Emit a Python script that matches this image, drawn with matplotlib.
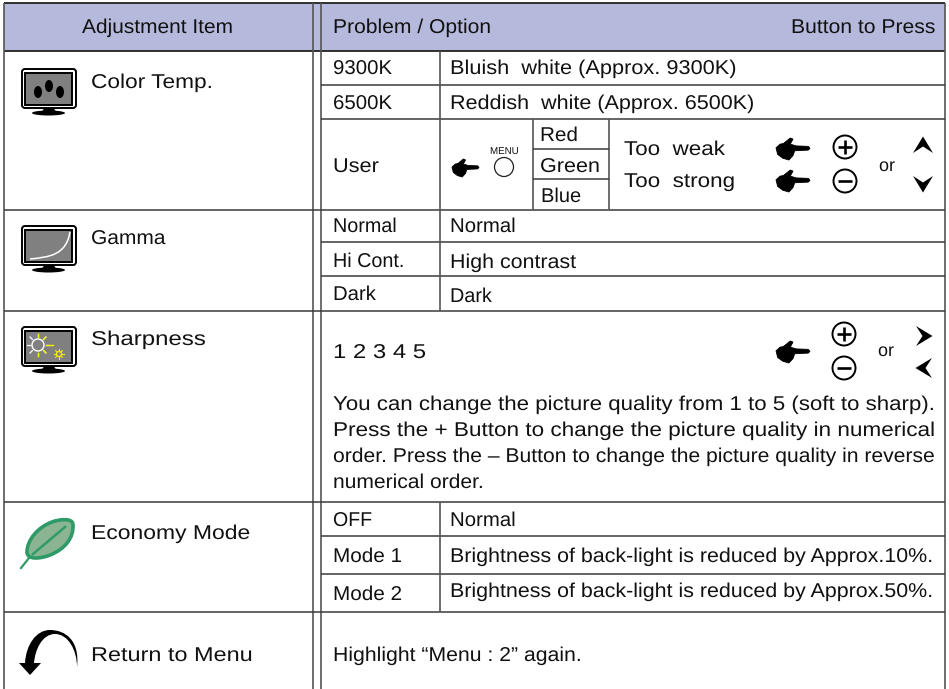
#!/usr/bin/env python3
"""Adjustment menu table, drawn on one axes in pixel coordinates."""
import matplotlib
matplotlib.use("Agg")
import matplotlib.pyplot as plt
import matplotlib.patheffects as pe
from matplotlib.patches import Circle, Ellipse, FancyBboxPatch, PathPatch, Polygon, Rectangle
from matplotlib.path import Path
from matplotlib.transforms import Affine2D

plt.rcParams["font.family"] = ["Liberation Sans", "DejaVu Sans"]

header = ["Adjustment Item", "Problem / Option", "Button to Press"]
items = ["Color Temp.", "Gamma", "Sharpness", "Economy Mode", "Return to Menu"]
temp_options = ["9300K", "6500K", "User"]
temp_texts = ["Bluish  white (Approx. 9300K)", "Reddish  white (Approx. 6500K)"]
channels = ["Red", "Green", "Blue"]
strength = ["Too  weak", "Too  strong"]
gamma_options = ["Normal", "Hi Cont.", "Dark"]
gamma_texts = ["Normal", "High contrast", "Dark"]
sharp_levels = "1 2 3 4 5"
sharp_para = [
    "You can change the picture quality from 1 to 5 (soft to sharp).",
    "Press the + Button to change the picture quality in numerical",
    "order. Press the \u2013 Button to change the picture quality in reverse",
    "numerical order.",
]
eco_options = ["OFF", "Mode 1", "Mode 2"]
eco_texts = ["Normal",
             "Brightness of back-light is reduced by Approx.10%.",
             "Brightness of back-light is reduced by Approx.50%."]
return_text = "Highlight \u201cMenu : 2\u201d again."

INK = "#111111"
LINE = "#3a3a3a"
HEAD = "#b5b9dc"

fig = plt.figure(figsize=(9.49, 6.89), dpi=100)
ax = fig.add_axes([0, 0, 1, 1])
ax.set_xlim(0, 949)
ax.set_ylim(689, 0)
ax.axis("off")
renderer = fig.canvas.get_renderer()


class StretchX(pe.AbstractPathEffect):
    def __init__(self, sx):
        super().__init__()
        self.sx = sx

    def draw_path(self, renderer, gc, tpath, affine, rgbFace=None):
        renderer.draw_path(gc, tpath, Affine2D().scale(self.sx, 1) + affine, rgbFace)


def put(x, base, s, xend=None, px=20):
    t = ax.text(x, base, s, fontsize=px * 0.72, color=INK, ha="left", va="baseline")
    if xend is not None:
        w = t.get_window_extent(renderer).width
        t.set_path_effects([StretchX((xend - x) / w)])
    return t


def hline(y, x0, x1, lw=1.1, c=LINE):
    ax.plot([x0, x1], [y, y], color=c, lw=lw, solid_capstyle="butt")


def vline(x, y0, y1, lw=1.2, c="#555555"):
    ax.plot([x, x], [y0, y1], color=c, lw=lw, solid_capstyle="butt")


def monitor(y0, x0=21):
    ax.add_patch(Ellipse((x0 + 27.5, y0 + 45), 33, 5, fc="black", ec="none"))
    ax.add_patch(Polygon([(x0 + 20, y0 + 45), (x0 + 24, y0 + 39), (x0 + 32, y0 + 39), (x0 + 36, y0 + 45)],
                         fc="black", ec="none"))
    ax.add_patch(FancyBboxPatch((x0 + 1, y0 + 1), 54, 39, boxstyle="round,pad=0,rounding_size=3",
                                fc="white", ec="black", lw=1.4))
    ax.add_patch(Rectangle((x0 + 4.5, y0 + 4.5), 47, 32, fc="#808080", ec="black", lw=1.4))


def hand(x, y, w=34, h=22):
    pts = [(0, -.05), (.12, -.22), (.22, -.25), (.42, -.5), (.5, -.45), (.42, -.22), (.6, -.14),
           (.95, -.12), (1, -.03), (.95, .05), (.55, .08), (.5, .3), (.38, .5), (.2, .42), (.05, .25)]
    ax.add_patch(Polygon([(x + px * w, y + py * h) for px, py in pts], fc="black", ec="black", lw=0.6))


def plus_minus(x, y, r=11.5, plus=True):
    ax.add_patch(Circle((x, y), r, fc="white", ec="black", lw=1.4))
    hline(y, x - 7, x + 7, lw=1.9, c="black")
    if plus:
        vline(x, y - 7, y + 7, lw=1.9, c="black")


def chevron(x, y, direction):
    base = [(0, -8.5), (-10, 8), (0, 1.5), (10, 8)]
    rot = {"up": lambda p: p, "down": lambda p: (p[0], -p[1]),
           "right": lambda p: (-p[1], p[0]), "left": lambda p: (p[1], p[0])}[direction]
    ax.add_patch(Polygon([(x + rot(p)[0], y + rot(p)[1]) for p in base], fc="black", ec="none"))


def sun(x, y, r, col, lw=1.0):
    ax.add_patch(Circle((x, y), r, fc="none", ec=col, lw=lw))
    for dx, dy in [(1, 0), (-1, 0), (0, 1), (0, -1), (.7, .7), (-.7, .7), (.7, -.7), (-.7, -.7)]:
        ax.plot([x + dx * r * 1.35, x + dx * r * 1.9], [y + dy * r * 1.35, y + dy * r * 1.9], color=col, lw=lw * .9)


# header band and outer frame
ax.add_patch(Rectangle((4, 3), 941, 48, fc=HEAD, ec="none"))
hline(3, 4, 945, lw=1.3, c="#222222")
hline(51, 4, 945, lw=1.3, c="#222222")
for x in (4, 313, 321, 945):
    vline(x, 3, 689)

# full width rows
for y in (210, 311, 502, 612):
    hline(y, 4, 945)
# rows that only cross the right part
for y in (85, 119, 242, 276, 536, 574):
    hline(y, 321, 945)
for y0, y1 in [(51, 210), (210, 311), (502, 612)]:
    vline(440, y0, y1)
vline(533, 119, 210)
vline(609, 119, 210)
hline(149, 533, 609)
hline(179, 533, 609)

# text
put(82, 33, header[0], 233)
put(333, 33, header[1], 491)
put(791, 33, header[2], 935)

for (x1, y), s in zip([(213, 88), (166, 244), (206, 345), (250, 539), (252, 661)], items):
    put(91, y, s, x1)

put(333, 74, temp_options[0], 392)
put(333, 109, temp_options[1], 392)
put(333, 172, temp_options[2], 379)
put(450, 74, temp_texts[0], 736)
put(450, 109, temp_texts[1], 754)
put(540, 141, channels[0], 578)
put(540, 172, channels[1], 600)
put(541, 202, channels[2], 581)
put(624, 155, strength[0], 725)
put(624, 187, strength[1], 735)
put(490, 154, "MENU", 519, px=10)
put(879, 171, "or", 895, px=18)
put(878, 356, "or", 894, px=18)

put(333, 232, gamma_options[0], 397)
put(333, 267, gamma_options[1], 404)
put(333, 300, gamma_options[2], 376)
put(450, 232, gamma_texts[0], 516)
put(450, 268, gamma_texts[1], 576)
put(450, 302, gamma_texts[2], 492)

put(333, 358, sharp_levels, 426)
for y, x1, s in zip((410, 436, 462, 488), (934, 934, 934, 484), sharp_para):
    put(333, y, s, x1)

put(333, 526, eco_options[0], 372)
put(333, 562, eco_options[1], 402)
put(333, 600, eco_options[2], 402)
put(450, 526, eco_texts[0], 516)
put(450, 562, eco_texts[1], 933)
put(450, 597, eco_texts[2], 933)
put(333, 661, return_text, 581)

# button glyphs
ax.add_patch(Circle((504, 167), 9.5, fc="white", ec="#222222", lw=0.9))
hand(452, 168, w=27, h=18)
hand(776, 149)
hand(776, 181)
hand(776, 352)
plus_minus(845, 147)
plus_minus(845, 181, plus=False)
plus_minus(844, 334)
plus_minus(844, 368, plus=False)
chevron(923, 145, "up")
chevron(923, 184, "down")
chevron(924, 336, "right")
chevron(924, 368, "left")

# menu icons
monitor(68)
for cx, cy in [(38, 92), (49, 86), (60, 92)]:
    ax.add_patch(Ellipse((cx, cy), 8, 12, fc="black", ec="none"))

monitor(225)
ax.add_patch(PathPatch(Path([(30, 259), (50, 257), (66, 255), (70, 232)],
                            [Path.MOVETO, Path.CURVE4, Path.CURVE4, Path.CURVE4]),
                       fc="none", ec="white", lw=1.1))

monitor(326)
sun(38, 345, 6, "white")
ax.plot([46, 53], [345, 345], color="#f4f000", lw=1)
for dx, dy in [(0, -1), (.7, -.7), (0, 1), (.7, .7)]:
    ax.plot([38 + dx * 8, 38 + dx * 11], [345 + dy * 8, 345 + dy * 11], color="#f4f000", lw=1)
sun(59, 354, 2.5, "#f4f000", lw=0.9)

leaf = Path([(73, 524), (72, 518), (60, 519), (52, 522), (38, 527), (27, 540), (27, 552),
             (27, 560), (40, 559), (50, 555), (65, 549), (74, 538), (73, 524)],
            [Path.MOVETO] + [Path.CURVE4] * 12)
ax.add_patch(PathPatch(leaf, fc="#8bb592", ec="#2e9a68", lw=2.6))
ax.plot([65, 33], [527, 554], color="#2e9a68", lw=1.8)
ax.plot([29, 21], [558, 568], color="#2e9a68", lw=1.6)

arc = Path([(77, 667), (80, 640), (65, 630), (50, 630), (36, 630), (26, 645), (25, 663),
            (34, 663), (35, 650), (42, 634), (55, 634), (68, 634), (77, 650), (77, 667)],
           [Path.MOVETO, Path.CURVE4, Path.CURVE4, Path.CURVE4, Path.CURVE4, Path.CURVE4, Path.CURVE4,
            Path.LINETO, Path.CURVE4, Path.CURVE4, Path.CURVE4, Path.CURVE4, Path.CURVE4, Path.CURVE4])
ax.add_patch(PathPatch(arc, fc="black", ec="none"))
ax.add_patch(Polygon([(19, 663), (41, 663), (30, 675)], fc="black", ec="none"))

fig.savefig("out.png", dpi=100)
